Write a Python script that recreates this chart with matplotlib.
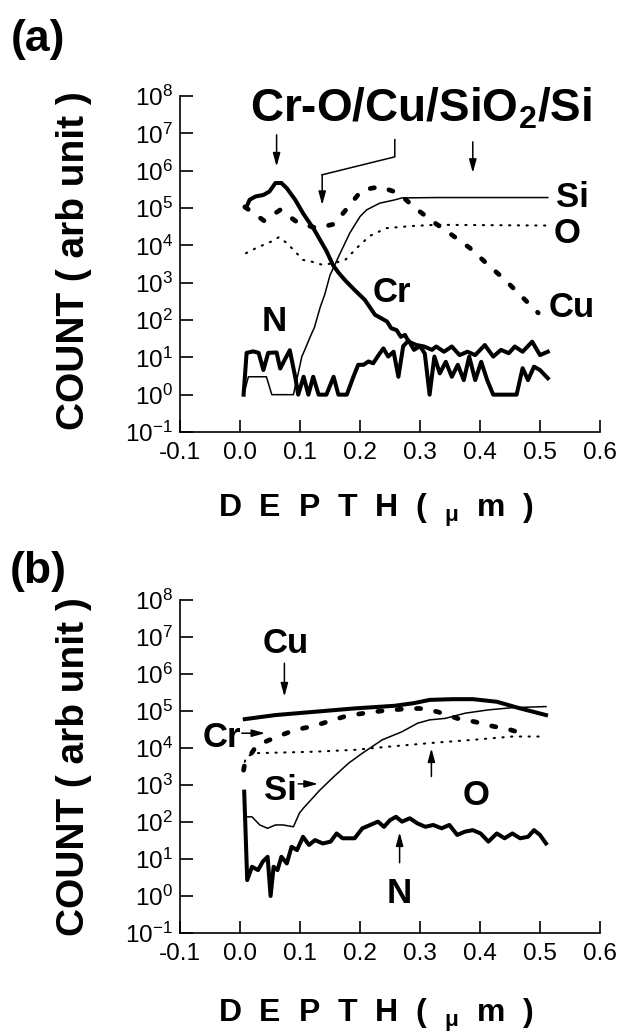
import matplotlib
matplotlib.use('Agg')
import matplotlib.pyplot as plt
import numpy as np

plt.rcParams['font.family'] = ['Liberation Sans', 'DejaVu Sans']
plt.rcParams['mathtext.fontset'] = 'custom'
plt.rcParams['mathtext.rm'] = 'Liberation Sans'
plt.rcParams['mathtext.bf'] = 'Liberation Sans:bold'
plt.rcParams['mathtext.it'] = 'Liberation Sans:italic'

### data, panel (a)  (depth in um, log10 of count)

cr_a_d = [0.010, 0.016, 0.026, 0.039, 0.049, 0.059, 0.069, 0.078, 0.092, 0.105, 0.124, 0.144, 0.155,
          0.165, 0.176, 0.190, 0.208, 0.225, 0.235, 0.245, 0.252, 0.261, 0.268, 0.275, 0.281, 0.294,
          0.307, 0.320, 0.327, 0.340, 0.353, 0.366, 0.379, 0.392, 0.408, 0.422, 0.435, 0.448, 0.458,
          0.471, 0.487, 0.500, 0.513]
cr_a_log = [5.00, 5.22, 5.31, 5.35, 5.44, 5.67, 5.67, 5.53, 5.22, 4.86, 4.41, 3.85, 3.47,
            3.25, 3.05, 2.82, 2.54, 2.14, 2.05, 1.96, 1.78, 1.73, 1.55, 1.60, 1.42, 1.33,
            1.29, 1.20, 1.29, 1.15, 1.29, 1.06, 1.15, 1.06, 1.33, 1.02, 1.20, 1.11, 1.29,
            1.15, 1.42, 1.06, 1.15]

si_a_d = [0.006, 0.014, 0.044, 0.053, 0.089, 0.097, 0.103, 0.108, 0.117, 0.124, 0.134, 0.141, 0.150,
          0.167, 0.183, 0.200, 0.211, 0.233, 0.256, 0.270, 0.330, 0.420, 0.513]
si_a_log = [0.0, 0.48, 0.48, 0.0, 0.0, 0.57, 1.02, 1.20, 1.55, 1.80, 2.36, 2.67, 3.20,
            3.79, 4.33, 4.77, 4.95, 5.13, 5.21, 5.27, 5.28, 5.28, 5.28]

o_a_d = [0.010, 0.026, 0.039, 0.052, 0.065, 0.078, 0.092, 0.105, 0.118, 0.137, 0.157, 0.176, 0.196,
         0.216, 0.244, 0.289, 0.327, 0.420, 0.513]
o_a_log = [3.79, 3.92, 4.01, 4.10, 4.22, 4.06, 3.83, 3.61, 3.57, 3.48, 3.52, 3.62, 3.95,
           4.25, 4.46, 4.52, 4.55, 4.54, 4.53]

cu_a_d = [0.008, 0.040, 0.067, 0.097, 0.128, 0.157, 0.179, 0.203, 0.233, 0.264, 0.292, 0.322, 0.353,
          0.383, 0.414, 0.442, 0.472, 0.497]
cu_a_log = [5.03, 4.66, 4.95, 4.60, 4.46, 4.57, 5.00, 5.48, 5.57, 5.40, 5.00, 4.63, 4.28,
            3.93, 3.47, 3.07, 2.59, 2.19]

n_a_d = [0.006, 0.011, 0.022, 0.031, 0.039, 0.047, 0.061, 0.067, 0.075, 0.083, 0.092, 0.097, 0.106,
         0.114, 0.122, 0.131, 0.144, 0.156, 0.164, 0.178, 0.189, 0.197, 0.206, 0.214, 0.222, 0.231,
         0.239, 0.247, 0.256, 0.264, 0.272, 0.281, 0.290, 0.300, 0.308, 0.316, 0.324, 0.333, 0.343,
         0.353, 0.363, 0.373, 0.382, 0.392, 0.402, 0.412, 0.422, 0.431, 0.441, 0.451, 0.461, 0.471,
         0.480, 0.490, 0.500, 0.513]
n_a_log = [0, 1.12, 1.16, 1.12, 0.66, 1.12, 1.13, 0.70, 0.95, 1.19, 0.48, 0, 0.48,
           0, 0.48, 0, 0, 0.48, 0, 0, 0.48, 0.80, 0.80, 0.89, 0.84, 1.06,
           1.24, 1.02, 1.15, 0.48, 1.30, 1.45, 1.20, 1.30, 1.10, 0, 1.02, 0.57, 0.88,
           0.48, 0.80, 0.39, 1.02, 0.39, 0.88, 0.39, 0, 0, 0, 0, 0, 0.71,
           0.39, 0.75, 0.66, 0.44]

### data, panel (b)

cu_b_d = [0.008, 0.059, 0.125, 0.191, 0.257, 0.289, 0.316, 0.355, 0.388, 0.428, 0.467, 0.510]
cu_b_log = [4.78, 4.89, 4.98, 5.07, 5.14, 5.21, 5.30, 5.32, 5.32, 5.25, 5.07, 4.89]

si_b_d = [0.008, 0.020, 0.033, 0.046, 0.059, 0.072, 0.089, 0.099, 0.106, 0.133, 0.156, 0.181,
          0.204, 0.237, 0.270, 0.296, 0.316, 0.342, 0.375, 0.414, 0.454, 0.510]
si_b_log = [2.14, 2.14, 1.92, 1.83, 1.92, 1.92, 1.87, 2.24, 2.38, 2.86, 3.22, 3.59,
            3.86, 4.22, 4.44, 4.67, 4.76, 4.80, 4.94, 5.03, 5.09, 5.12]

cr_b_d = [0.006, 0.008, 0.028, 0.061, 0.092, 0.122, 0.150, 0.178, 0.211, 0.240, 0.270, 0.299,
          0.329, 0.362, 0.391, 0.421, 0.451, 0.480]
cr_b_log = [3.40, 3.59, 4.07, 4.30, 4.49, 4.59, 4.73, 4.87, 4.95, 5.01, 5.05, 5.07,
            4.98, 4.80, 4.71, 4.59, 4.49, 4.35]

o_b_d = [0.008, 0.011, 0.025, 0.125, 0.191, 0.257, 0.322, 0.388, 0.454, 0.510]
o_b_log = [3.63, 3.77, 3.86, 3.90, 3.95, 4.05, 4.14, 4.22, 4.31, 4.31]

n_b_d = [0.007, 0.012, 0.020, 0.030, 0.038, 0.046, 0.051, 0.056, 0.0625, 0.069,
         0.078, 0.086, 0.095, 0.105, 0.115, 0.125, 0.138, 0.151, 0.161, 0.171,
         0.191, 0.204, 0.217, 0.230, 0.240, 0.250, 0.260, 0.270, 0.283, 0.296,
         0.309, 0.322, 0.336, 0.349, 0.362, 0.375, 0.388, 0.401, 0.414, 0.428,
         0.441, 0.454, 0.467, 0.480, 0.490, 0.500, 0.510]
n_b_log = [2.82, 0.43, 0.79, 0.70, 0.93, 1.06, 0.0, 0.79, 0.70, 1.06,
           0.88, 1.33, 1.24, 1.60, 1.38, 1.51, 1.42, 1.47, 1.69, 1.56,
           1.56, 1.83, 1.92, 2.01, 1.87, 2.05, 2.14, 2.01, 2.10, 1.96,
           1.87, 1.92, 1.83, 1.92, 1.65, 1.74, 1.78, 1.69, 1.47, 1.69,
           1.56, 1.69, 1.56, 1.60, 1.78, 1.65, 1.42]

x_ticks = [-0.1, 0.0, 0.1, 0.2, 0.3, 0.4, 0.5, 0.6]
x_ticklabels = ['-0.1', '0.0', '0.1', '0.2', '0.3', '0.4', '0.5', '0.6']
y_exponents = [-1, 0, 1, 2, 3, 4, 5, 6, 7, 8]

# line styles
thick = dict(color='k', lw=2.9, solid_joinstyle='round')
thin = dict(color='k', lw=1.1)
big_dots = dict(color='k', lw=3.4, dashes=(0.9, 3.2), dash_capstyle='round')
small_dots = dict(color='k', lw=1.5, dashes=(0.6, 3.6), dash_capstyle='round')
arrow = dict(arrowstyle='-|>,head_length=0.8,head_width=0.22', lw=1.1, color='k',
             shrinkA=0, shrinkB=0)
lab = dict(fontsize=25, fontweight='bold', ha='center', va='baseline')


def P(v):
    return 10.0 ** np.array(v)


def setup(ax):
    ax.set_yscale('log')
    ax.set_xlim(-0.1, 0.6)
    ax.set_ylim(0.1, 1e8)
    ax.spines['top'].set_visible(False)
    ax.spines['right'].set_visible(False)
    ax.spines['left'].set_linewidth(1.2)
    ax.spines['bottom'].set_linewidth(1.2)
    ax.set_xticks(x_ticks)
    ax.set_xticklabels(x_ticklabels)
    ax.set_yticks([10.0 ** e for e in y_exponents])
    ax.set_yticklabels(['$10^{%d}$' % e for e in y_exponents])
    ax.yaxis.set_minor_locator(matplotlib.ticker.NullLocator())
    ax.tick_params(axis='both', direction='in', length=9, width=1.2, labelsize=17.5)
    ax.tick_params(axis='x', pad=7)
    ax.tick_params(axis='y', pad=5)


W, H = 621, 1034
fig = plt.figure(figsize=(W / 100, H / 100), dpi=100)

# (a)
ax = fig.add_axes([180 / W, 1 - 432 / H, 420 / W, 336 / H])
setup(ax)
ax.plot(cr_a_d, P(cr_a_log), **thick)
ax.plot(n_a_d, P(n_a_log), **thick)
ax.plot(si_a_d, P(si_a_log), **thin)
ax.plot(o_a_d, P(o_a_log), **small_dots)
ax.plot(cu_a_d, P(cu_a_log), **big_dots)

ax.text(0.302, 10 ** 7.32, 'Cr-O/Cu/SiO$_\\mathbf{2}$/Si', fontsize=33, fontweight='bold',
        ha='center', va='baseline')
ax.annotate('', xy=(0.061, 10 ** 6.11), xytext=(0.061, 10 ** 6.96), arrowprops=arrow)
ax.plot([0.258, 0.258, 0.137], [10 ** 6.83, 10 ** 6.37, 10 ** 5.89], color='k', lw=1.1)
ax.annotate('', xy=(0.137, 10 ** 5.08), xytext=(0.137, 10 ** 5.89), arrowprops=arrow)
ax.annotate('', xy=(0.388, 10 ** 5.94), xytext=(0.388, 10 ** 6.77), arrowprops=arrow)

ax.text(0.554, 10 ** 5.04, 'Si', **lab)
ax.text(0.545, 10 ** 4.05, 'O', **lab)
ax.text(0.553, 10 ** 2.09, 'Cu', **lab)
ax.text(0.253, 10 ** 2.49, 'Cr', **lab)
ax.text(0.057, 10 ** 1.71, 'N', **lab)

# (b)
ax = fig.add_axes([180 / W, 1 - 933 / H, 420 / W, 333 / H])
setup(ax)
ax.plot(cu_b_d, P(cu_b_log), **thick)
ax.plot(n_b_d, P(n_b_log), **thick)
ax.plot(si_b_d, P(si_b_log), **thin)
ax.plot(o_b_d, P(o_b_log), **small_dots)
ax.plot(cr_b_d, P(cr_b_log), **big_dots)

ax.text(0.076, 10 ** 6.56, 'Cu', **lab)
ax.annotate('', xy=(0.074, 10 ** 5.39), xytext=(0.074, 10 ** 6.29), arrowprops=arrow)
ax.text(-0.03, 10 ** 4.04, 'Cr', **lab)
ax.annotate('', xy=(0.042, 10 ** 4.40), xytext=(0.003, 10 ** 4.40), arrowprops=arrow)
ax.text(0.067, 10 ** 2.59, 'Si', **lab)
ax.annotate('', xy=(0.13, 10 ** 3.03), xytext=(0.097, 10 ** 3.03), arrowprops=arrow)
ax.text(0.393, 10 ** 2.46, 'O', **lab)
ax.annotate('', xy=(0.319, 10 ** 3.99), xytext=(0.319, 10 ** 3.23), arrowprops=arrow)
ax.text(0.266, 10 ** -0.2, 'N', **lab)
ax.annotate('', xy=(0.266, 10 ** 1.72), xytext=(0.266, 10 ** 0.9), arrowprops=arrow)

# panel letters and axis titles
fig.text(38 / W, 1 - 40 / H, '(a)', fontsize=32, fontweight='bold', ha='center', va='center')
fig.text(38 / W, 1 - 572 / H, '(b)', fontsize=32, fontweight='bold', ha='center', va='center')
for yc in [261, 767]:
    fig.text(74 / W, 1 - yc / H, 'COUNT ( arb unit )', fontsize=28, fontweight='bold',
             rotation=90, ha='center', va='center')
for yc in [510, 1015]:
    fig.text(376 / W, 1 - yc / H, 'D  E  P  T  H  (  $\\mathregular{_\\mu}$  m  )', fontsize=23,
             fontweight='bold', ha='center', va='center')

fig.savefig('out.png', dpi=100)
